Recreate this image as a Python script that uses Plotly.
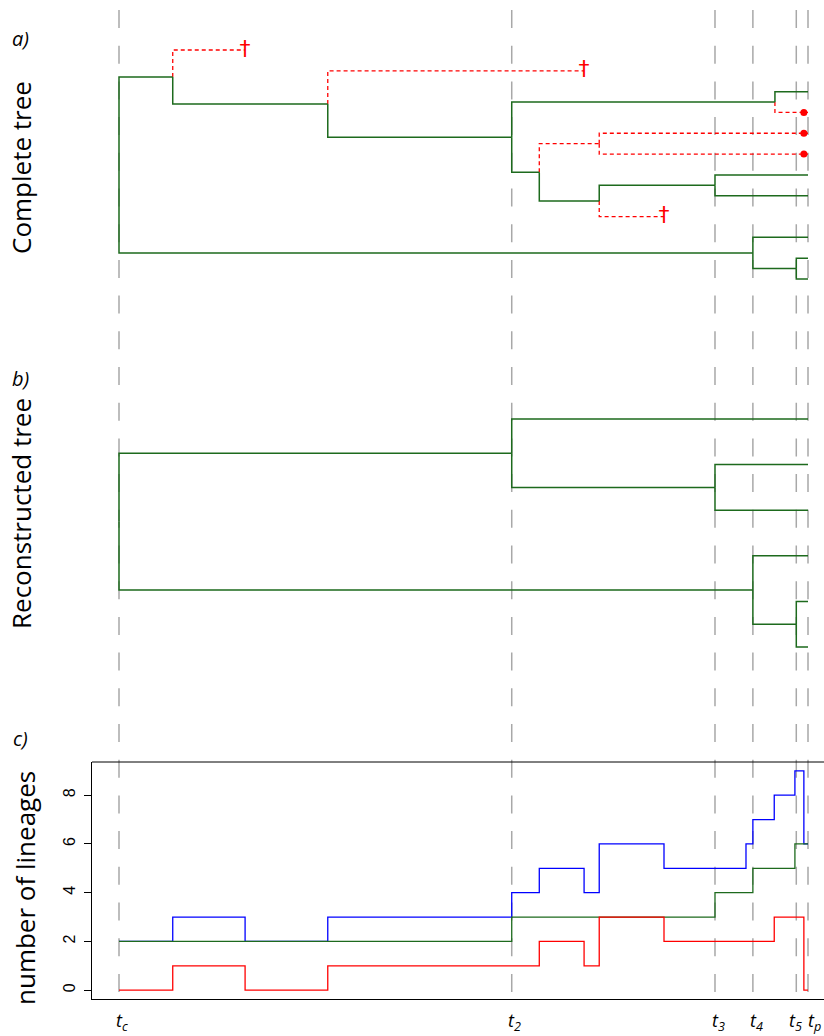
import plotly.graph_objects as go

W, H = 824, 1036

# ---------------- data ----------------
# time axis: crown age t_c = 0, present t_p = 10
tick_times = [0.0, 5.70, 8.65, 9.20, 9.83, 10.0]
tick_labels = ["<i>t<sub>c</sub></i>", "<i>t<sub>2</sub></i>", "<i>t<sub>3</sub></i>",
               "<i>t<sub>4</sub></i>", "<i>t<sub>5</sub></i>", "<i>t<sub>p</sub></i>"]

# complete tree (panel a)
full_node_names = ["root", "A", "B", "C", "D", "E", "F", "G", "H", "K", "M"]
full_node_times = [0.0, 0.78, 3.03, 5.70, 9.52, 6.10, 6.97, 6.97, 8.65, 9.20, 9.83]
full_tip_names = ["T1", "T2", "T3", "T4", "T5", "T6", "T7", "T8", "T9", "T10", "T11", "T12"]
full_tip_end = [1.83, 6.75, 10.0, 10.0, 10.0, 10.0, 10.0, 10.0, 7.91, 10.0, 10.0, 10.0]
full_tip_status = ["extinct", "extinct", "sampled", "unsampled", "unsampled", "unsampled",
                   "sampled", "sampled", "extinct", "sampled", "sampled", "sampled"]
full_edge_parent = ["root", "root", "A", "A", "B", "B", "C", "C", "D", "D", "E", "E",
                    "F", "F", "G", "G", "H", "H", "K", "K", "M", "M"]
full_edge_child = ["A", "K", "T1", "B", "T2", "C", "D", "E", "T3", "T4", "F", "G",
                   "T5", "T6", "H", "T9", "T7", "T8", "T10", "M", "T11", "T12"]
unsampled_mark_time = 9.94

# reconstructed tree (panel b)
rec_node_names = ["root", "P", "Q", "R", "S"]
rec_node_times = [0.0, 5.70, 8.65, 9.20, 9.83]
rec_tip_names = ["U1", "U2", "U3", "U4", "U5", "U6"]
rec_tip_end = [10.0, 10.0, 10.0, 10.0, 10.0, 10.0]
rec_tip_status = ["sampled"] * 6
rec_edge_parent = ["root", "root", "P", "P", "Q", "Q", "R", "R", "S", "S"]
rec_edge_child = ["P", "R", "U1", "Q", "U2", "U3", "U4", "S", "U5", "U6"]

# lineages through time (panel c)
total_times = [0.0, 0.78, 1.83, 3.03, 5.70, 6.10, 6.75, 6.97, 7.91, 9.10, 9.20, 9.51, 9.81, 9.94, 10.0]
total_counts = [2, 3, 2, 3, 4, 5, 4, 6, 5, 6, 7, 8, 9, 6, 6]
recon_times = [0.0, 5.70, 8.65, 9.20, 9.81, 10.0]
recon_counts = [2, 3, 4, 5, 6, 6]
missing_times = [0.0, 0.78, 1.83, 3.03, 6.10, 6.75, 6.97, 7.91, 9.51, 9.94, 10.0]
missing_counts = [0, 1, 0, 1, 2, 1, 3, 2, 3, 0, 0]

# ---------------- styling ----------------
GREEN = "#1d6a1d"
RED = "#ff0000"
BLUE = "#0000ff"
GREY = "#a8a8a8"
LABEL_FONT = "Open Sans"
tick_label_shift = [3, 3, 4, 4, -1, 6]   # horizontal nudge (px) of the time labels


def px_x(p):
    return p / W


def px_y(p):
    return 1 - p / H


def tree_traces(node_names, node_times, tip_names, tip_end, tip_status, parents, children, yaxis):
    xpos = dict(zip(node_names, node_times))
    xpos.update(zip(tip_names, tip_end))
    status = dict(zip(tip_names, tip_status))
    kids = {}
    for p, c in zip(parents, children):
        kids.setdefault(p, []).append(c)
    ypos = {t: len(tip_names) - i for i, t in enumerate(tip_names)}

    def gety(n):
        if n not in ypos:
            ypos[n] = sum(gety(k) for k in kids[n]) / len(kids[n])
        return ypos[n]

    def alive(n):
        if n in status:
            return status[n] == "sampled"
        return any(alive(k) for k in kids[n])

    gety("root")
    gx, gyv, rx, ry = [], [], [], []
    for p, c in zip(parents, children):
        xs = [xpos[p], xpos[p], xpos[c], None]
        ys = [ypos[p], ypos[c], ypos[c], None]
        if alive(c):
            gx += xs; gyv += ys
        else:
            rx += xs; ry += ys
    out = []
    if rx:
        out.append(go.Scatter(x=rx, y=ry, mode="lines", yaxis=yaxis, hoverinfo="skip",
                              line=dict(color=RED, width=1.3, dash="4px,3px")))
    out.append(go.Scatter(x=gx, y=gyv, mode="lines", yaxis=yaxis, hoverinfo="skip",
                          line=dict(color=GREEN, width=1.5)))
    ext = [t for t in tip_names if status[t] == "extinct"]
    if ext:
        out.append(go.Scatter(x=[xpos[t] for t in ext], y=[ypos[t] for t in ext], mode="text",
                              text=["†"] * len(ext), textposition="middle center", yaxis=yaxis,
                              textfont=dict(color=RED, size=22, family="DejaVu Sans"),
                              hoverinfo="skip"))
    uns = [t for t in tip_names if status[t] == "unsampled"]
    if uns:
        out.append(go.Scatter(x=[unsampled_mark_time] * len(uns), y=[ypos[t] for t in uns],
                              mode="markers", yaxis=yaxis, hoverinfo="skip",
                              marker=dict(color=RED, size=7)))
    return out


fig = go.Figure()
for tr in tree_traces(full_node_names, full_node_times, full_tip_names, full_tip_end,
                      full_tip_status, full_edge_parent, full_edge_child, "y"):
    fig.add_trace(tr)
for tr in tree_traces(rec_node_names, rec_node_times, rec_tip_names, rec_tip_end,
                      rec_tip_status, rec_edge_parent, rec_edge_child, "y2"):
    fig.add_trace(tr)

fig.add_trace(go.Scatter(x=total_times, y=total_counts, mode="lines", line_shape="hv", yaxis="y3",
                         line=dict(color=BLUE, width=1.3), hoverinfo="skip"))
fig.add_trace(go.Scatter(x=recon_times, y=recon_counts, mode="lines", line_shape="hv", yaxis="y3",
                         line=dict(color=GREEN, width=1.3), hoverinfo="skip"))
fig.add_trace(go.Scatter(x=missing_times, y=missing_counts, mode="lines", line_shape="hv", yaxis="y3",
                         line=dict(color=RED, width=1.3), hoverinfo="skip"))

# pixel geometry: t_c at x=119px, t_p at x=808px, plot area starts at 92px
ppu = (808 - 119) / 10.0
x_lo = -(119 - 92) / ppu
x_hi = 10 + (W - 808) / ppu

shapes = []
for t in tick_times:
    shapes.append(dict(type="line", xref="x", yref="paper", x0=t, x1=t,
                       y0=px_y(10), y1=px_y(1000), layer="below",
                       line=dict(color=GREY, width=1.5, dash="18px,17.7px")))
shapes.append(dict(type="line", xref="paper", yref="paper", x0=px_x(92), x1=1.0,
                   y0=px_y(762), y1=px_y(762), line=dict(color="black", width=1)))

ann = []
for txt, (x, y) in [("<i>a)</i>", (20, 39)), ("<i>b)</i>", (20, 378)), ("<i>c)</i>", (20, 738))]:
    ann.append(dict(text=txt, x=px_x(x), y=px_y(y), xref="paper", yref="paper", showarrow=False,
                    xanchor="center", yanchor="middle", font=dict(family=LABEL_FONT, size=20, color="black")))
for txt, (x, y) in [("Complete tree", (21, 168)), ("Reconstructed tree", (21, 514)),
                    ("number of lineages", (25, 888))]:
    ann.append(dict(text=txt, x=px_x(x), y=px_y(y), xref="paper", yref="paper", showarrow=False,
                    textangle=-90, xanchor="center", yanchor="middle",
                    font=dict(family=LABEL_FONT, size=26, color="black")))
for t, lab, sh in zip(tick_times, tick_labels, tick_label_shift):
    ann.append(dict(text=lab, x=t, y=px_y(1006), xref="x", yref="paper", showarrow=False,
                    xanchor="center", yanchor="top", xshift=sh,
                    font=dict(family=LABEL_FONT, size=18, color="black")))

# panel a: tips 12 (top, 50px) .. 1 (bottom, 279px); panel b: tips 6 (419px) .. 1 (647px)
ua = (279 - 50) / 11
ub = (647 - 419) / 5
fig.update_layout(
    width=W, height=H, margin=dict(l=0, r=0, t=0, b=0, pad=0),
    paper_bgcolor="white", plot_bgcolor="white", showlegend=False,
    xaxis=dict(domain=[px_x(92), 1.0], range=[x_lo, x_hi], anchor="y3", showgrid=False,
               zeroline=False, showline=True, linecolor="black", linewidth=1, ticks="",
               showticklabels=False, automargin=False),
    yaxis=dict(domain=[px_y(330), 1.0], range=[12 - (330 - 50) / ua, 12 + 50 / ua],
               visible=False),
    yaxis2=dict(domain=[px_y(680), px_y(340)], range=[1 - (680 - 647) / ub, 6 + (419 - 340) / ub],
                visible=False),
    yaxis3=dict(domain=[px_y(999), px_y(762)], range=[-0.36, 9.36], anchor="x", showgrid=False,
                zeroline=False, showline=True, linecolor="black", linewidth=1, automargin=False,
                ticks="outside", ticklen=7, tickcolor="black", tickvals=[0, 2, 4, 6, 8],
                tickangle=-90, ticklabelstandoff=3,
                tickfont=dict(family="Liberation Sans", size=16, color="black")),
    shapes=shapes, annotations=ann,
)

# remove the browser's default 8px page margin so the figure fills the window exactly
fig.write_html("out.html", config={"displayModeBar": False},
               post_script="document.body.style.margin='0px';")
